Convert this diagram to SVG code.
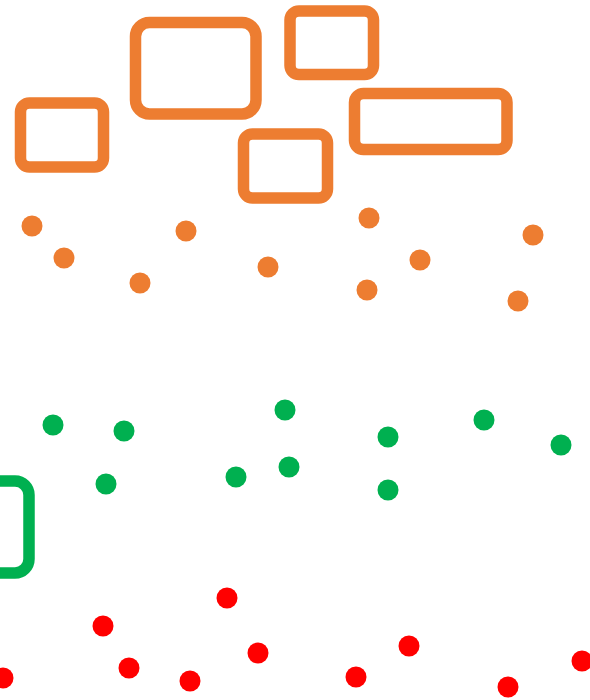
<svg xmlns="http://www.w3.org/2000/svg" width="590" height="700" viewBox="0 0 590 700">
<style>
.o{fill:none;stroke:#ED7D31;stroke-width:11.5}
.g{fill:none;stroke:#00B050;stroke-width:11.5}
.od{fill:#ED7D31}
.gd{fill:#00B050}
.rd{fill:#FF0000}
</style>
<rect width="590" height="700" fill="#fff"/>
<g id="rect-a"><rect class="o" x="20.5" y="103" width="83" height="64" rx="9"/></g>
<g id="rect-b"><rect class="o" x="135.5" y="22.5" width="120.5" height="91.5" rx="14"/></g>
<g id="rect-c"><rect class="o" x="290" y="11" width="83.5" height="63.5" rx="9"/></g>
<g id="rect-d"><rect class="o" x="354.5" y="93.5" width="152.5" height="56" rx="9"/></g>
<g id="rect-e"><rect class="o" x="243.5" y="134" width="84" height="64" rx="9"/></g>
<g id="rect-green"><rect class="g" x="-92" y="481" width="121" height="92" rx="14"/></g>
<g id="orange-dots" class="od">
<circle cx="32" cy="226" r="10.5"/><circle cx="64" cy="258" r="10.5"/><circle cx="140" cy="283" r="10.5"/>
<circle cx="186" cy="231" r="10.5"/><circle cx="268" cy="267" r="10.5"/><circle cx="369" cy="218" r="10.5"/>
<circle cx="420" cy="260" r="10.5"/><circle cx="367" cy="290" r="10.5"/><circle cx="533" cy="235" r="10.5"/>
<circle cx="518" cy="301" r="10.5"/>
</g>
<g id="green-dots" class="gd">
<circle cx="53" cy="425" r="10.5"/><circle cx="124" cy="431" r="10.5"/><circle cx="106" cy="484" r="10.5"/>
<circle cx="236" cy="477" r="10.5"/><circle cx="285" cy="410" r="10.5"/><circle cx="289" cy="467" r="10.5"/>
<circle cx="388" cy="437" r="10.5"/><circle cx="388" cy="490" r="10.5"/><circle cx="484" cy="420" r="10.5"/>
<circle cx="561" cy="445" r="10.5"/>
</g>
<g id="red-dots" class="rd">
<circle cx="3" cy="678" r="10.5"/><circle cx="103" cy="626" r="10.5"/><circle cx="129" cy="668" r="10.5"/>
<circle cx="190" cy="681" r="10.5"/><circle cx="227" cy="598" r="10.5"/><circle cx="258" cy="653" r="10.5"/>
<circle cx="356" cy="677" r="10.5"/><circle cx="409" cy="646" r="10.5"/><circle cx="508" cy="687" r="10.5"/>
<circle cx="582" cy="661" r="10.5"/>
</g>
</svg>
